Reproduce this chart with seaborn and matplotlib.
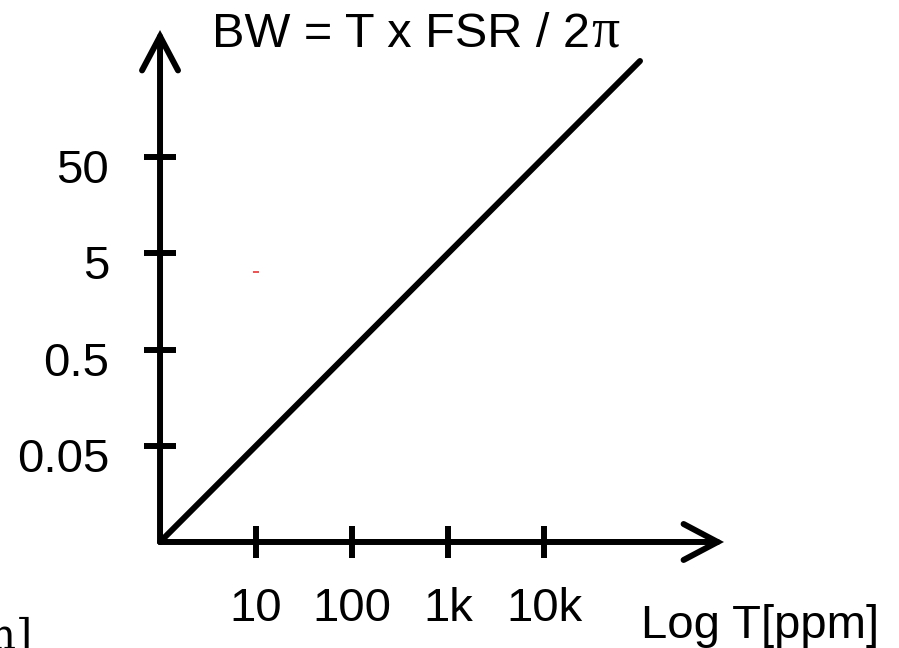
import matplotlib
matplotlib.use("Agg")
import matplotlib.pyplot as plt
from matplotlib.transforms import ScaledTranslation
import seaborn as sns

# data
T_ppm = [1, 1e5]
BW_nm = [0.005, 500]
x_ticks = [10, 100, 1000, 10000]
x_tick_labels = ["10", "100", "1k", "10k"]
y_ticks = [0.05, 0.5, 5, 50]
y_tick_labels = ["0.05", "0.5", "5", "50"]
origin = (1, 0.005)
x_arrow_end = 7.5e5
y_arrow_end = 1050
stray_T = [10]
stray_BW = [3.2]

sns.set_style("white")
plt.rcParams["font.family"] = ["Liberation Sans", "DejaVu Sans"]
plt.rcParams["text.color"] = "black"

fig = plt.figure(figsize=(8.99, 6.48), dpi=100)
ax = fig.add_axes([0, 0, 1, 1])
ax.set_xscale("log")
ax.set_yscale("log")
ax.set_xlim(10 ** -1.667, 10 ** 7.698)
ax.set_ylim(10 ** -3.403, 10 ** 3.333)
ax.patch.set_alpha(0)

sns.lineplot(x=T_ppm, y=BW_nm, ax=ax, color="black", linewidth=4.3)
ax.plot(stray_T, stray_BW, marker="_", ms=5, mew=1.4, color="#f05050", ls="none")

# axes through the origin, drawn as arrows
for side in ["top", "right"]:
    ax.spines[side].set_visible(False)
ax.spines["left"].set_position(("data", origin[0]))
ax.spines["bottom"].set_position(("data", origin[1]))
ax.spines["left"].set_color("none")
ax.spines["bottom"].set_color("none")

arrow = dict(arrowstyle="->,head_length=0.7,head_width=0.37", lw=4.3,
             color="black", mutation_scale=35, shrinkA=0, shrinkB=0,
             capstyle="round", joinstyle="miter")
ax.annotate("", xy=(x_arrow_end, origin[1]), xytext=origin, arrowprops=arrow)
ax.annotate("", xy=(origin[0], y_arrow_end), xytext=origin, arrowprops=arrow)

ax.set_xticks(x_ticks, x_tick_labels)
ax.set_yticks(y_ticks, y_tick_labels)
ax.minorticks_off()
ax.tick_params(direction="inout", length=23, width=4.3, colors="black", labelsize=34)
ax.tick_params(axis="x", pad=21, bottom=True)
ax.tick_params(axis="y", pad=25, left=True)
for lbl in ax.get_yticklabels():
    lbl.set_transform(lbl.get_transform() + ScaledTranslation(0, -9 / 100, fig.dpi_scale_trans))
ax.grid(False)

title = fig.text(212 / 899, 1 - 47 / 648, "BW = T x FSR / 2", fontsize=35,
                 va="baseline", ha="left")
ax.annotate("π", xy=(1, 0), xycoords=title, xytext=(1, -1), textcoords="offset points",
            fontsize=40, family="Liberation Serif", va="bottom", ha="left")
fig.text(641 / 899, 1 - 638 / 648, "Log T[ppm]", fontsize=34, va="baseline")
fig.text(33 / 899, -1 / 648, "BW[nm]", fontsize=30, family="DejaVu Serif",
         ha="right", va="baseline")

fig.savefig("out.png", dpi=100)
